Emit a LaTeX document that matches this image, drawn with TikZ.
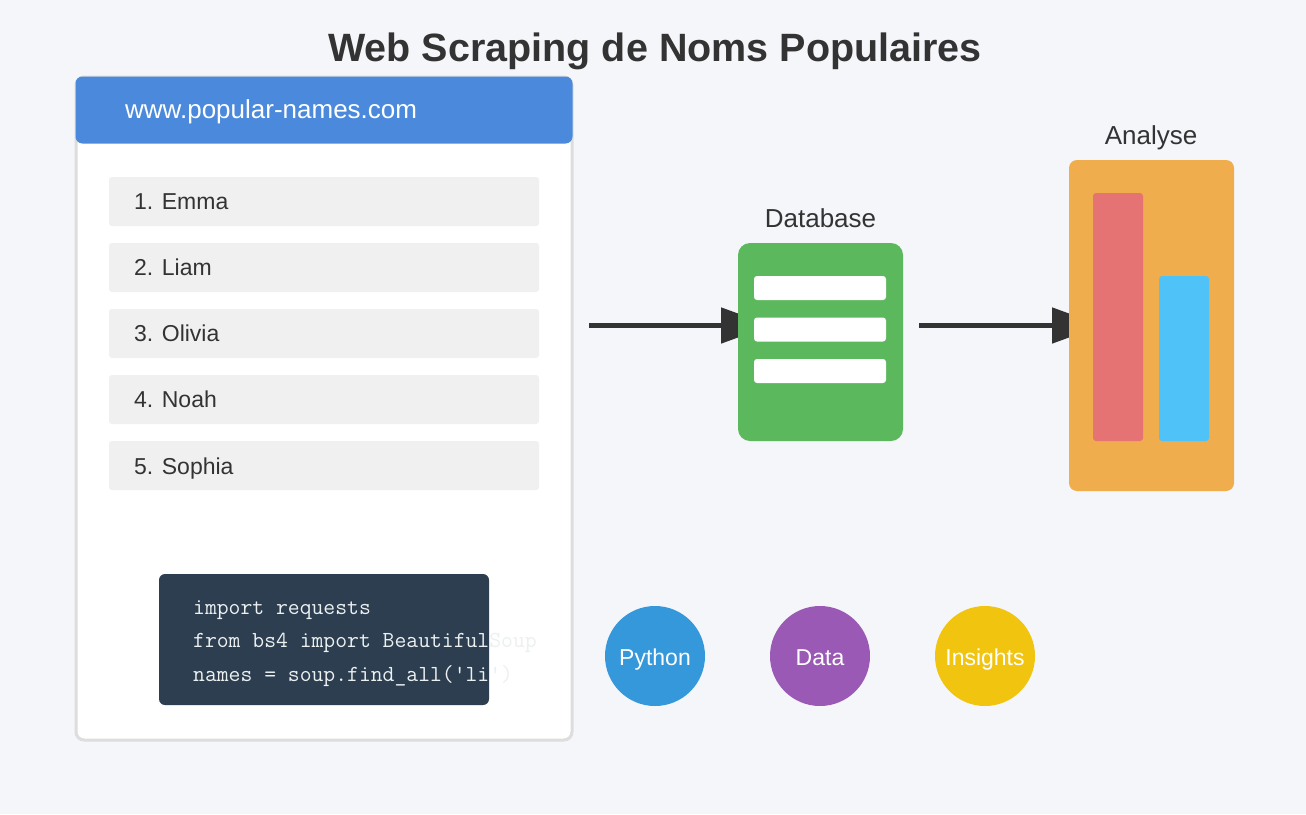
\documentclass[tikz,border=0pt]{standalone}
\usepackage{fontspec}
\setmainfont{Liberation Sans}
\usetikzlibrary{arrows.meta}
\definecolor{bg}{HTML}{F5F6FA}
\definecolor{paneledge}{HTML}{DDDDDD}
\definecolor{header}{HTML}{4A89DC}
\definecolor{itemfill}{HTML}{F0F0F0}
\definecolor{txt}{HTML}{333333}
\definecolor{codebg}{HTML}{2C3E50}
\definecolor{codetxt}{HTML}{ECF0F1}
\definecolor{dbgreen}{HTML}{5CB85C}
\definecolor{anorange}{HTML}{F0AD4E}
\definecolor{barred}{HTML}{E57373}
\definecolor{barblue}{HTML}{4FC3F7}
\definecolor{cpython}{HTML}{3498DB}
\definecolor{cdata}{HTML}{9B59B6}
\definecolor{cinsight}{HTML}{F1C40F}
\tikzset{
  box/.style={rectangle, inner sep=0pt, outer sep=0pt, anchor=north west},
  itembox/.style={box, fill=itemfill, rounded corners=3pt, minimum width=430pt, minimum height=49pt},
  itemtext/.style={anchor=base west, inner sep=0pt, text=txt, font=\fontsize{23}{27}\selectfont},
  label/.style={anchor=base, inner sep=0pt, text=txt, font=\fontsize{26}{30}\selectfont},
  codeline/.style={anchor=base west, inner sep=0pt, text=codetxt, font=\ttfamily\fontsize{23}{26}\selectfont},
  whitebar/.style={box, fill=white, rounded corners=3pt, minimum width=132pt, minimum height=24pt},
  badge/.style={circle, inner sep=0pt, minimum size=100pt},
  badgetext/.style={anchor=base, inner sep=0pt, text=white, font=\fontsize{23}{27}\selectfont},
  flow/.style={draw=txt, line width=5pt, -{Triangle[length=50pt,width=35pt]}},
}
\begin{document}
\begin{tikzpicture}[x=1pt,y=-1pt]
\path[fill=bg, use as bounding box] (0,0) rectangle (1306,814);
% title
\node[anchor=base, inner sep=0pt, text=txt, font=\bfseries\fontsize{39.5}{44}\selectfont] (title) at (655,61) {Web Scraping de Noms Populaires};
% browser panel
\node[box, fill=white, draw=paneledge, line width=3pt, rounded corners=8pt, minimum width=496pt, minimum height=663pt] (panel) at (76,77) {};
\node[box, fill=header, rounded corners=7pt, minimum width=497pt, minimum height=67pt] (hdr) at (75.5,76.5) {};
\node[anchor=base west, inner sep=0pt, text=white, font=\fontsize{26}{30}\selectfont] (url) at (125,118) {www.popular-names.com};
% list
\node[itembox] (i1) at (109,177) {};
\node[itembox] (i2) at (109,243) {};
\node[itembox] (i3) at (109,309) {};
\node[itembox] (i4) at (109,375) {};
\node[itembox] (i5) at (109,441) {};
\node[itemtext] (t1) at (134,209) {1. Emma};
\node[itemtext] (t2) at (134,275) {2. Liam};
\node[itemtext] (t3) at (134,341) {3. Olivia};
\node[itemtext] (t4) at (134,407) {4. Noah};
\node[itemtext] (t5) at (134,474) {5. Sophia};
% code block
\node[box, fill=codebg, rounded corners=6pt, minimum width=330pt, minimum height=131pt] (code) at (159,574) {};
\node[codeline] (c1) at (193,614) {import requests};
\node[codeline] (c2) at (193,647.5) {from bs4 import BeautifulSoup};
\node[codeline] (c3) at (193,681) {names = soup.find\_all(\textquotesingle li\textquotesingle)};
% arrows (drawn beneath the boxes)
\coordinate (a1s) at (589,325.5);
\coordinate (a1e) at (771,325.5);
\coordinate (a2s) at (919,325.5);
\coordinate (a2e) at (1102,325.5);
\draw[flow] (a1s) -- (a1e);
\draw[flow] (a2s) -- (a2e);
% database
\node[label] (dblabel) at (820.5,227) {Database};
\node[box, fill=dbgreen, rounded corners=12pt, minimum width=165pt, minimum height=198pt] (db) at (738,243) {};
\node[whitebar] (r1) at (754,276) {};
\node[whitebar] (r2) at (754,317.5) {};
\node[whitebar] (r3) at (754,359) {};
% analyse
\node[label] (anlabel) at (1151,144) {Analyse};
\node[box, fill=anorange, rounded corners=8pt, minimum width=165pt, minimum height=331pt] (an) at (1069,160) {};
\node[box, fill=barred, rounded corners=3pt, minimum width=50pt, minimum height=248pt] (bar1) at (1093,193) {};
\node[box, fill=barblue, rounded corners=3pt, minimum width=50pt, minimum height=165pt] (bar2) at (1159,276) {};
% badges
\node[badge, fill=cpython] (py) at (655,656) {};
\node[badge, fill=cdata] (dt) at (820,656) {};
\node[badge, fill=cinsight] (ins) at (985,656) {};
\node[badgetext] at (655,665) {Python};
\node[badgetext] at (820,665) {Data};
\node[badgetext] at (985,665) {Insights};
\end{tikzpicture}
\end{document}
